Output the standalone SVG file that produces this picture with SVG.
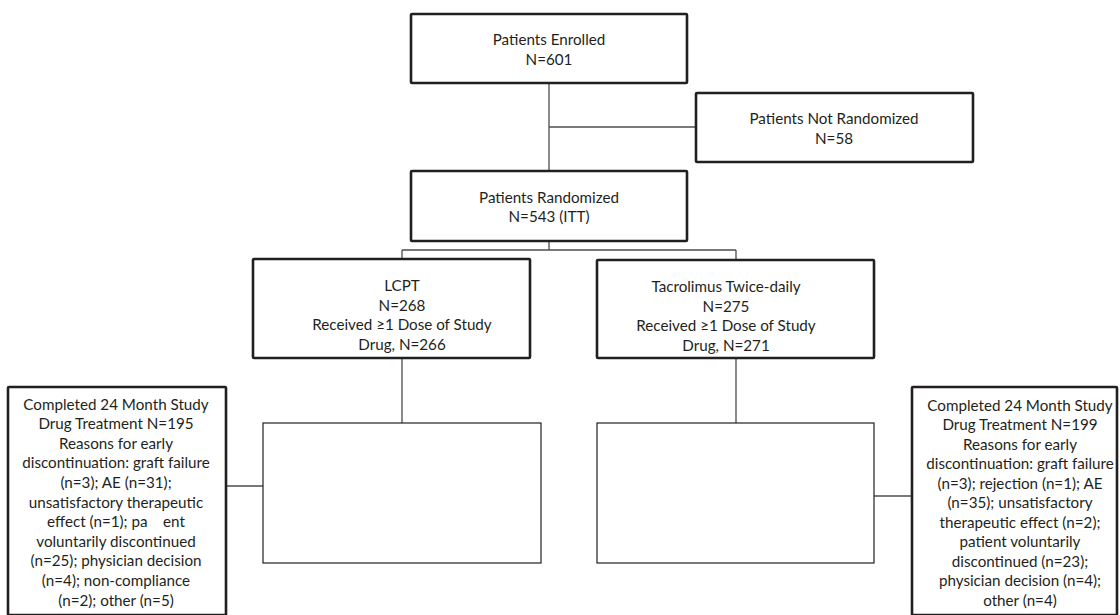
<svg xmlns="http://www.w3.org/2000/svg" width="1120" height="615" viewBox="0 0 1120 615">
<style>
.box{fill:#fff;stroke:#231f20;stroke-width:2.6}
.thin{fill:#fff;stroke:#231f20;stroke-width:1.2}
.conn{fill:none;stroke:#4d4d4f;stroke-width:1.3}
text{font-family:Lato,"Liberation Sans",sans-serif;font-size:15.2px;fill:#231f20;text-anchor:middle}
</style>
<rect width="1120" height="615" fill="#fff"/>
<g id="connectors">
<path class="conn" d="M549,83V171M549,127H696"/>
<path class="conn" d="M549,241V250M402,250H736M402,250V259M736,250V260"/>
<path class="conn" d="M402,358V423M736,358V423"/>
<path class="conn" d="M226,486H263M874,496H912"/>
</g>
<g id="enrolled">
<rect class="box" x="411" y="14" width="276" height="69" rx="1"/>
<text x="549" y="44.5">Patients Enrolled</text>
<text x="549" y="64.5">N=601</text>
</g>
<g id="not-randomized">
<rect class="box" x="696" y="93" width="277" height="69" rx="1"/>
<text x="834" y="123.5">Patients Not Randomized</text>
<text x="834" y="143.5">N=58</text>
</g>
<g id="randomized">
<rect class="box" x="411" y="171" width="276" height="70" rx="1"/>
<text x="549" y="202.5">Patients Randomized</text>
<text x="549" y="221.5">N=543 (ITT)</text>
</g>
<g id="lcpt">
<rect class="box" x="253" y="259" width="277" height="99" rx="1"/>
<text x="402" y="291">LCPT</text>
<text x="402" y="310.5">N=268</text>
<text x="402" y="330">Received ≥1 Dose of Study</text>
<text x="402" y="349.5">Drug, N=266</text>
</g>
<g id="tacrolimus">
<rect class="box" x="597" y="260" width="277" height="98" rx="1"/>
<text x="726" y="292">Tacrolimus Twice-daily</text>
<text x="726" y="311.5">N=275</text>
<text x="726" y="331">Received ≥1 Dose of Study</text>
<text x="726" y="350.5">Drug, N=271</text>
</g>
<g id="lcpt-empty">
<rect class="thin" x="263" y="423" width="278" height="140"/>
</g>
<g id="tac-empty">
<rect class="thin" x="597" y="423" width="277" height="140"/>
</g>
<g id="lcpt-completed">
<rect class="box" x="8" y="387" width="218" height="228" rx="1"/>
<text x="116" y="409.5">Completed 24 Month Study</text>
<text x="116" y="429.1">Drug Treatment N=195</text>
<text x="116" y="448.7">Reasons for early</text>
<text x="116" y="468.3">discontinuation: graft failure</text>
<text x="116" y="487.9">(n=3); AE (n=31);</text>
<text x="116" y="507.5">unsatisfactory therapeutic</text>
<text x="116" y="527.1" xml:space="preserve">effect (n=1); pa    ent</text>
<text x="116" y="546.7">voluntarily discontinued</text>
<text x="116" y="566.3">(n=25); physician decision</text>
<text x="116" y="585.9">(n=4); non-compliance</text>
<text x="116" y="605.5">(n=2); other (n=5)</text>
</g>
<g id="tac-completed">
<rect class="box" x="912" y="387" width="205" height="228" rx="1"/>
<text x="1020" y="410.5">Completed 24 Month Study</text>
<text x="1020" y="430">Drug Treatment N=199</text>
<text x="1020" y="449.5">Reasons for early</text>
<text x="1020" y="469">discontinuation: graft failure</text>
<text x="1020" y="488.5">(n=3); rejection (n=1); AE</text>
<text x="1020" y="508">(n=35); unsatisfactory</text>
<text x="1020" y="527.5">therapeutic effect (n=2);</text>
<text x="1020" y="547">patient voluntarily</text>
<text x="1020" y="566.5">discontinued (n=23);</text>
<text x="1020" y="586">physician decision (n=4);</text>
<text x="1020" y="605.5">other (n=4)</text>
</g>
</svg>
